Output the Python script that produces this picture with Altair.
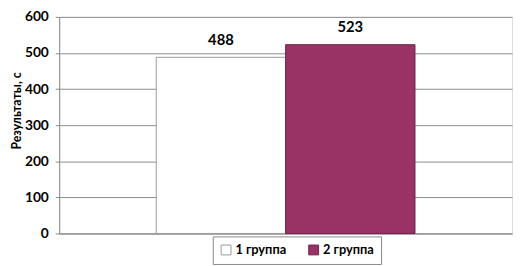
import altair as alt
import pandas as pd

groups = ["1 группа", "2 группа"]
values = [488, 523]
fills = ["#ffffff", "#993366"]
strokes = ["#9a9a9a", "#6e2449"]
y_ticks = [0, 100, 200, 300, 400, 500, 600]

df = pd.DataFrame({"group": groups, "value": values})

FONT = "Lato"

x_enc = alt.X("group:N", scale=alt.Scale(paddingInner=0, paddingOuter=0.75),
              axis=alt.Axis(labels=False, ticks=False, title=None, domain=True,
                            domainColor="#888888"))
y_enc = alt.Y("value:Q", scale=alt.Scale(domain=[0, 600], nice=False),
              axis=alt.Axis(values=y_ticks, title="Результаты, с", titleFont=FONT,
                            titleFontSize=12.5, titleFontWeight="bold", titleColor="black",
                            titleX=-36, titleY=95, titleBaseline="bottom",
                            labelFont=FONT, labelFontSize=14, labelFontWeight="bold",
                            labelColor="black", labelPadding=7, tickSize=4,
                            labelOverlap=False,
                            tickColor="#888888", domainColor="#888888",
                            gridColor="#8c8c8c"))

bars = alt.Chart(df).mark_bar(strokeWidth=1).encode(
    x=x_enc,
    y=y_enc,
    fill=alt.Fill("group:N", scale=alt.Scale(domain=groups, range=fills),
                  legend=alt.Legend(title=None, orient="none", legendX=156, legendY=223,
                                    direction="horizontal", symbolType="square",
                                    symbolSize=100, labelFont=FONT, labelFontSize=13,
                                    labelFontWeight="bold", labelColor="black",
                                    columnPadding=20, labelOffset=3, padding=7,
                                    strokeColor="#888888", fillColor="white",
                                    symbolStrokeWidth=1)),
    stroke=alt.Stroke("group:N", scale=alt.Scale(domain=groups, range=strokes), legend=None),
)

labels = alt.Chart(df).mark_text(dy=-10, baseline="bottom", font=FONT, fontSize=15,
                                 fontWeight="bold", color="black").encode(
    x=x_enc,
    y=y_enc,
    text="value:Q",
)

chart = (bars + labels).properties(
    width=460, height=220,
    autosize=alt.AutoSizeParams(type="none"),
    padding={"left": 52, "top": 7, "right": 2, "bottom": 30},
).configure_view(stroke="#aaaaaa", strokeWidth=1).configure(background="white")

chart.save("out.html", embed_options={"renderer": "svg", "actions": False})
